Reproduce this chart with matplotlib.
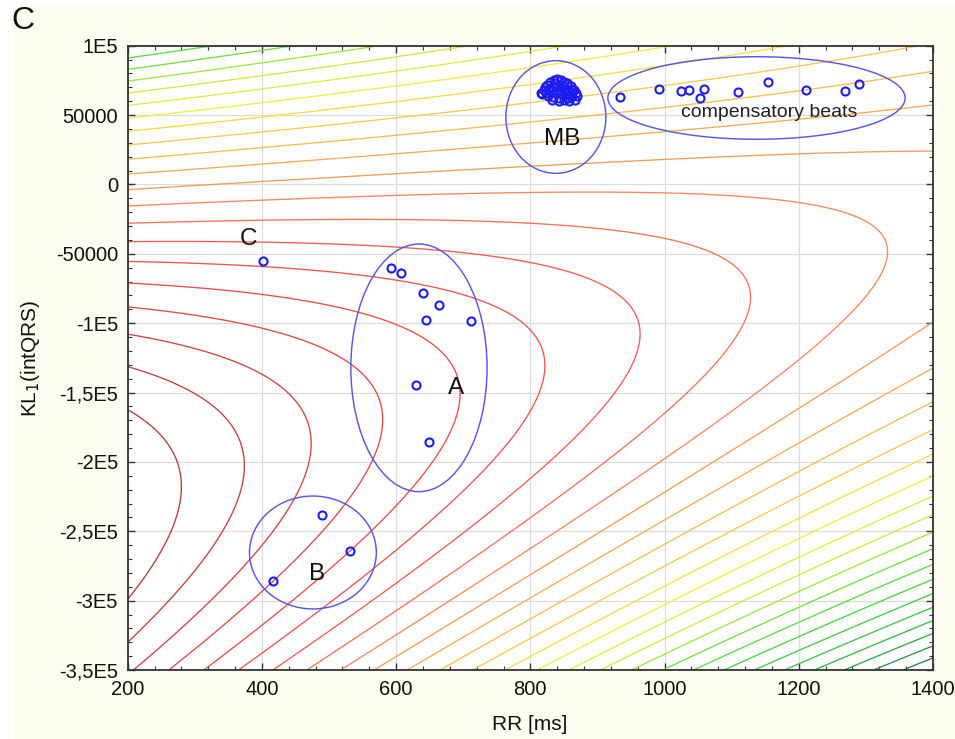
import numpy as np
import matplotlib
matplotlib.use("Agg")
import matplotlib.pyplot as plt
from matplotlib.patches import Ellipse, Rectangle
from matplotlib.colors import LinearSegmentedColormap

plt.rcParams['font.family'] = ['Liberation Sans', 'DejaVu Sans']

# ---------------- traced contour points ----------------
# contour crossings along the left edge RR = 200 (levels 0..20, upper branch)
left_levels_upper = list(range(0, 21))
left_y_upper = [-161360, -131500, -107460, -88230, -71400, -55780, -40870, -28130,
                -15390, -3610, 7930, 18020, 28360, 37980, 48310, 57210, 65620,
                74520, 82930, 90870, 98300]
left_levels_lower = [0, 1]
left_y_lower = [-299540, -328880]
# contour crossings along the right edge RR = 1400
right_levels_upper = [9, 10, 11]
right_y_upper = [24100, 57300, 81300]
right_levels_lower = list(range(9, 27))
right_y_lower = [-100100, -132500, -157300, -177000, -194500, -211100, -224600,
                 -238300, -251500, -262800, -273600, -284600, -294700, -304800,
                 -314000, -323500, -332000, -340400]
# apex (right-most point) of the left-opening contours
vertex_levels = [0, 1, 2, 3, 4, 5, 6, 7, 8]
vertex_x = [278, 372, 472, 575, 689, 814, 957, 1122, 1331]
vertex_y = [-208000, -205800, -184000, -160000, -146000, -134000, -113000, -89000, -43000]
# crossings along the top edge KL1 = 1E5
top_levels = [19, 18, 17, 16, 15, 14, 12]
top_x = [323, 437, 567, 715, 859, 1018, 1376]
# crossings along the bottom edge KL1 = -3.5E5
bottom_levels = list(range(2, 28))
bottom_x = [208, 263, 313, 365, 417, 467, 519, 566, 616, 665, 715, 763, 807, 856,
            904, 951, 1001, 1045, 1093, 1137, 1182, 1222, 1266, 1311, 1356, 1396]

# ---------------- scatter data ----------------
c_x = [402]
c_y = [-55000]
a_x = [592, 607, 640, 664, 644, 712, 630, 649]
a_y = [-60400, -63600, -78000, -86700, -97700, -98200, -144600, -185900]
b_x = [490, 531, 416]
b_y = [-238300, -264400, -286100]
comp_x = [934, 991, 1024, 1036, 1053, 1059, 1109, 1154, 1211, 1269, 1290]
comp_y = [63000, 69000, 67100, 67800, 62300, 69000, 66600, 73600, 67800, 67100, 72600]
mb_x = [820, 825, 830, 835, 840, 845, 850, 855, 860, 865, 870, 866, 858, 850, 842,
        834, 826, 818, 822, 828, 834, 840, 846, 852, 858, 862, 854, 846, 838, 830,
        824, 836, 848, 856, 816, 842, 832, 862, 868, 844]
mb_y = [68000, 72000, 74000, 75000, 76000, 75000, 74000, 73000, 71000, 68000, 64000,
        61000, 60000, 61000, 62000, 63000, 64000, 65000, 70000, 69000, 70000, 71000,
        70000, 69000, 67000, 64000, 65000, 66000, 67000, 67000, 66000, 73000, 72000,
        62000, 66000, 60000, 61000, 69000, 66000, 68000]

# ellipses: (centre RR, centre KL1, width ms, height)
ellipse_names = ['MB', 'comp', 'A', 'B']
ellipse_cx = [838, 1137, 634, 476]
ellipse_cy = [48600, 62300, -132200, -265300]
ellipse_w = [149, 443, 203, 189]
ellipse_h = [81200, 59500, 178500, 81400]

xticks = [200, 400, 600, 800, 1000, 1200, 1400]
yticks = [100000, 50000, 0, -50000, -100000, -150000, -200000, -250000, -300000, -350000]
ytick_labels = ['1E5', '50000', '0', '-50000', '-1E5', '-1,5E5', '-2E5', '-2,5E5', '-3E5', '-3,5E5']
contour_levels = list(range(0, 28))

# ---------------- assemble traced points and fit a quadratic surface ----------------
px, py, pz = [], [], []
for lv, yy in zip(left_levels_upper, left_y_upper):
    px.append(200); py.append(yy); pz.append(lv)
for lv, yy in zip(left_levels_lower, left_y_lower):
    px.append(200); py.append(yy); pz.append(lv)
for lv, yy in zip(right_levels_upper, right_y_upper):
    px.append(1400); py.append(yy); pz.append(lv)
for lv, yy in zip(right_levels_lower, right_y_lower):
    px.append(1400); py.append(yy); pz.append(lv)
for lv, xx, yy in zip(vertex_levels, vertex_x, vertex_y):
    px.append(xx); py.append(yy); pz.append(lv)
for lv, xx in zip(top_levels, top_x):
    px.append(xx); py.append(100000); pz.append(lv)
for lv, xx in zip(bottom_levels, bottom_x):
    px.append(xx); py.append(-350000); pz.append(lv)
px = np.array(px, float); py = np.array(py, float); pz = np.array(pz, float)

def design(x, y):
    xs = (x - 800.0) / 600.0
    ys = (y + 125000.0) / 225000.0
    return np.stack([np.ones_like(xs), xs, ys, xs * xs, xs * ys, ys * ys], axis=-1)

coef, *_ = np.linalg.lstsq(design(px, py), pz, rcond=None)

gx = np.linspace(200, 1400, 400)
gy = np.linspace(-350000, 100000, 400)
GX, GY = np.meshgrid(gx, gy)
GZ = design(GX, GY) @ coef

# ---------------- figure ----------------
fig = plt.figure(figsize=(9.55, 7.39), dpi=100, facecolor='white')
fig.patches.append(Rectangle((12 / 955, 0), 1 - 12 / 955, 1 - 6 / 739,
                             transform=fig.transFigure, facecolor='#fdfcf1',
                             edgecolor='none', zorder=-10))
ax = fig.add_axes([127.7 / 955, 1 - 670 / 739, (933 - 127.7) / 955, (670 - 45.7) / 739])
ax.set_facecolor('white')

cmap = LinearSegmentedColormap.from_list('stat', [
    (0 / 27, '#b43a3a'), (3 / 27, '#e44646'), (6 / 27, '#f25c50'), (8 / 27, '#f58a5c'),
    (10 / 27, '#f8ac52'), (12 / 27, '#f8cc4c'), (14 / 27, '#f2ee40'), (16 / 27, '#c8ee40'),
    (17 / 27, '#a0e840'), (18 / 27, '#70e040'), (20 / 27, '#44d840'), (23 / 27, '#34bc4a'),
    (25 / 27, '#2f9652'), (27 / 27, '#226a48')])
ax.contour(GX, GY, GZ, levels=contour_levels, cmap=cmap, vmin=0, vmax=27,
           linewidths=0.95, zorder=2)

mk = dict(marker='o', linestyle='none', markersize=5.8, markerfacecolor='none',
          markeredgecolor='#1c1cf0', markeredgewidth=1.5, zorder=5)
for xs_, ys_ in [(c_x, c_y), (a_x, a_y), (b_x, b_y), (comp_x, comp_y), (mb_x, mb_y)]:
    ax.plot(xs_, ys_, **mk)

for cx, cy, w, h in zip(ellipse_cx, ellipse_cy, ellipse_w, ellipse_h):
    ax.add_patch(Ellipse((cx, cy), w, h, fill=False, edgecolor='#5858e2',
                         linewidth=1.05, zorder=4))

lab = dict(fontsize=17.5, color='#111111', ha='center', va='center', zorder=6)
ax.text(380, -39500, 'C', **lab)
ax.text(689, -147000, 'A', **lab)
ax.text(482, -280800, 'B', **lab)
ax.text(848, 32500, 'MB', **lab)
ax.text(1156, 51700, 'compensatory beats', fontsize=14, color='#222222',
        ha='center', va='center', zorder=6)

ax.set_xlim(200, 1400)
ax.set_ylim(-350000, 100000)
ax.set_xticks(xticks)
ax.set_xticklabels([str(t) for t in xticks])
ax.set_yticks(yticks)
ax.set_yticklabels(ytick_labels)
ax.set_xticks(np.arange(200, 1401, 40), minor=True)
ax.set_yticks(np.arange(-350000, 100001, 10000), minor=True)
ax.tick_params(which='both', direction='in', top=True, right=True, colors='#333333',
               labelcolor='#111111')
ax.tick_params(which='major', length=5, width=1.0, labelsize=14.5, pad=7)
ax.tick_params(which='minor', length=3, width=0.8)
ax.grid(True, which='major', color='#dcdcdc', linewidth=0.9)
ax.set_axisbelow(True)
for s in ax.spines.values():
    s.set_color('#333333')
    s.set_linewidth(1.3)

fig.text(529.7 / 955, 1 - 724 / 739, 'RR [ms]', fontsize=15, ha='center', va='center',
         color='#111111')
fig.text(31 / 955, 1 - 358 / 739, 'KL$_1$(intQRS)', fontsize=15, ha='center', va='center',
         rotation=90, color='#111111')
fig.text(23 / 955, 1 - 21 / 739, 'C', fontsize=23, ha='center', va='center', color='#111111')

fig.savefig('out.png', dpi=100, facecolor=fig.get_facecolor())
